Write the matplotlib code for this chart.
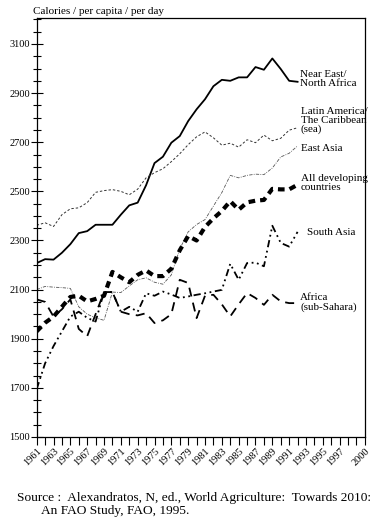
import matplotlib
matplotlib.use('Agg')
import matplotlib.pyplot as plt
from matplotlib.ticker import MultipleLocator

plt.rcParams['font.family'] = ['Liberation Serif', 'DejaVu Serif']

years = list(range(1961, 1993))

near_east = [2208, 2224, 2222, 2250, 2285, 2330, 2338, 2364, 2364, 2364, 2405, 2443, 2454, 2525,
             2615, 2641, 2698, 2725, 2786, 2834, 2875, 2928, 2954, 2950, 2964, 2964, 3006, 2995,
             3041, 2998, 2950, 2946]
latin_america = [2362, 2372, 2357, 2405, 2429, 2433, 2454, 2496, 2503, 2507, 2500, 2486, 2509, 2555,
                 2576, 2592, 2621, 2653, 2690, 2722, 2742, 2718, 2688, 2696, 2680, 2710, 2698, 2729,
                 2706, 2716, 2749, 2759]
east_asia = [2100, 2113, 2110, 2108, 2105, 2030, 2000, 1985, 1975, 2090, 2088, 2115, 2140, 2148,
             2130, 2122, 2160, 2265, 2335, 2365, 2385, 2440, 2495, 2565, 2555, 2565, 2570, 2568,
             2595, 2640, 2655, 2685]
all_developing = [1930, 1965, 1990, 2030, 2070, 2075, 2052, 2062, 2075, 2172, 2150, 2130, 2160, 2178,
                  2155, 2155, 2185, 2260, 2318, 2300, 2355, 2390, 2420, 2460, 2425, 2455, 2462, 2465,
                  2510, 2508, 2508, 2527]
south_asia = [1695, 1800, 1870, 1930, 1990, 2010, 1985, 1970, 2090, 2090, 2010, 2030, 2010, 2085,
              2075, 2092, 2080, 2066, 2072, 2079, 2085, 2092, 2099, 2205, 2140, 2208, 2210, 2195,
              2360, 2290, 2275, 2335]
africa = [2060, 2050, 1990, 2020, 2060, 1940, 1910, 2000, 2090, 2090, 2010, 2000, 1995, 2004,
          1964, 1975, 2000, 2140, 2127, 1984, 2075, 2079, 2040, 1991, 2040, 2086, 2066, 2038,
          2079, 2052, 2045, 2045]

xtick_years = list(range(1961, 1998, 2)) + [2000]

fig = plt.figure(figsize=(3.79, 5.19), dpi=100)
ax = fig.add_axes([0.0968, 0.158, 0.866, 0.807])

ax.plot(years, near_east, color='black', lw=1.3)
ax.plot(years, latin_america, color='#333333', lw=0.7, dashes=(2.5, 2))
ax.plot(years, east_asia, color='#555555', lw=0.6, dashes=(4, 1.5, 1, 1.5))
ax.plot(years, all_developing, color='black', lw=3.0, dashes=(1.6, 1.2))
ax.plot(years, south_asia, color='black', lw=1.3, dashes=(4, 2, 1, 2, 1, 2))
ax.plot(years, africa, color='black', lw=1.3, dashes=(5, 3.5))

lab = dict(fontsize=8, ha='left', va='center', linespacing=1.0)
ax.text(1992.3, 2959, 'Near East/\nNorth Africa', **lab)
ax.text(1992.4, 2788, 'Latin America/\nThe Caribbean\n(sea)', **lab)
ax.text(1992.4, 2676, 'East Asia', **lab)
ax.text(1992.4, 2532, 'All developing\ncountries', **lab)
ax.text(1993.1, 2331, 'South Asia', **lab)
ax.text(1992.3, 2047, 'Africa\n(sub-Sahara)', **lab)

ax.set_xlim(1961, 2000)
ax.set_ylim(1500, 3205)
ax.set_yticks(range(1500, 3101, 200))
ax.yaxis.set_minor_locator(MultipleLocator(50))
ax.set_xticks(xtick_years)
ax.set_xticklabels([str(y) for y in xtick_years], rotation=45, ha='right',
                   rotation_mode='anchor', fontsize=7.5)
ax.xaxis.set_minor_locator(MultipleLocator(1))
ax.tick_params(axis='y', which='major', direction='inout', length=8, width=0.8, labelsize=7.5, pad=1)
ax.tick_params(axis='y', which='minor', direction='inout', length=6, width=0.8)
ax.tick_params(axis='x', which='both', direction='out', length=6, width=0.8, pad=1)
for s in ax.spines.values():
    s.set_linewidth(0.9)

fig.text(33 / 379, 1 - 11 / 519, 'Calories / per capita / per day', fontsize=8, va='center')
fig.text(17 / 379, 1 - 498 / 519, 'Source :  Alexandratos, N, ed., World Agriculture:  Towards 2010:',
         fontsize=9.6, va='center')
fig.text(41 / 379, 1 - 511 / 519, 'An FAO Study, FAO, 1995.', fontsize=9.6, va='center')

fig.savefig('out.png', dpi=100)
